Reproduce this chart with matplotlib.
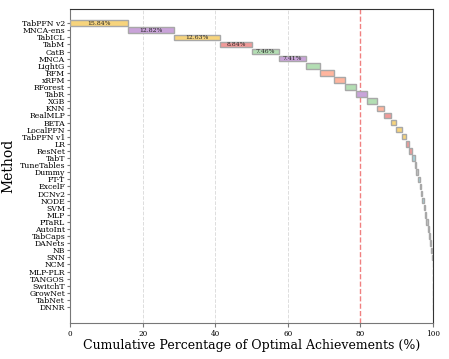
import matplotlib
matplotlib.use("Agg")
import matplotlib.pyplot as plt
import numpy as np

methods = ["TabPFN v2", "MNCA-ens", "TabICL", "TabM", "CatB", "MNCA", "LightG", "RFM",
           "xRFM", "RForest", "TabR", "XGB", "KNN", "RealMLP", "BETA", "LocalPFN",
           "TabPFN v1", "LR", "ResNet", "TabT", "TuneTables", "Dummy", "FT-T", "ExcelF",
           "DCNv2", "NODE", "SVM", "MLP", "PTaRL", "AutoInt", "TabCaps", "DANets", "NB",
           "SNN", "NCM", "MLP-PLR", "TANGOS", "SwitchT", "GrowNet", "TabNet", "DNNR"]
percentages = [15.84, 12.82, 12.63, 8.84, 7.46, 7.41, 4.02, 3.65,
               3.22, 3.03, 2.91, 2.76, 1.84, 1.93, 1.57, 1.65,
               1.04, 0.77, 0.83, 0.83, 0.38, 0.36, 0.55, 0.27,
               0.47, 0.36, 0.28, 0.46, 0.36, 0.36, 0.38, 0.28, 0.30,
               0.14, 0.0, 0.0, 0.0, 0.0, 0.0, 0.0, 0.0]
groups = ["y", "p", "y", "r", "g", "p", "g", "s",
          "s", "g", "p", "g", "s", "r", "y", "y",
          "y", "r", "r", "t", "k", "k", "t", "k",
          "k", "t", "s", "k", "k", "t", "k", "k", "r",
          "k", "k", "k", "k", "k", "k", "k", "k"]
palette = {"y": "#f7d47c", "p": "#c9a3d9", "r": "#f19a98", "g": "#b3deb3",
           "s": "#ffb59e", "t": "#a3d4dd", "k": "#c9c9c9"}
threshold = 80

plt.rcParams['font.family'] = ['DejaVu Serif']
fig = plt.figure(figsize=(4.49, 3.59), dpi=100)
ax = fig.add_axes([0.156, 0.100, 0.808, 0.875])

y = np.arange(len(methods))
starts = np.concatenate([[0], np.cumsum(percentages)[:-1]])
colors = [palette[g] for g in groups]
ax.barh(y, percentages, left=starts, height=0.78, color=colors,
        edgecolor="#a8a8a8", linewidth=1.0, zorder=3)
for i, (s, p) in enumerate(zip(starts, percentages)):
    if p > 5:
        ax.text(s + p / 2, i, f"{p:.2f}%", ha="center", va="center",
                fontsize=4.4, color="#222222", zorder=4)

for xv in [20, 40, 60]:
    ax.axvline(xv, color="#dddddd", linestyle="--", linewidth=0.7, zorder=0)
ax.axvline(threshold, color="#f08080", linestyle="--", linewidth=1.0, zorder=2)

ax.set_yticks(y)
ax.set_yticklabels(methods, fontsize=5.6)
ax.set_ylim(len(methods) - 1 + 2.26, -2.0)
ax.set_xlim(0, 100)
ax.set_xticks([0, 20, 40, 60, 80, 100])
ax.tick_params(axis="x", labelsize=5.2, length=3, pad=2, color="#777777")
ax.tick_params(axis="y", length=2.5, pad=1, color="#777777")
ax.set_xlabel("Cumulative Percentage of Optimal Achievements (%)", fontsize=9, labelpad=1)
ax.set_ylabel("Method", fontsize=10, labelpad=3)
for sp in ["left", "bottom"]:
    ax.spines[sp].set_color("#777777")
ax.spines["right"].set_color("#333333")
ax.spines["top"].set_color("#333333")

fig.savefig("out.png", dpi=100)
